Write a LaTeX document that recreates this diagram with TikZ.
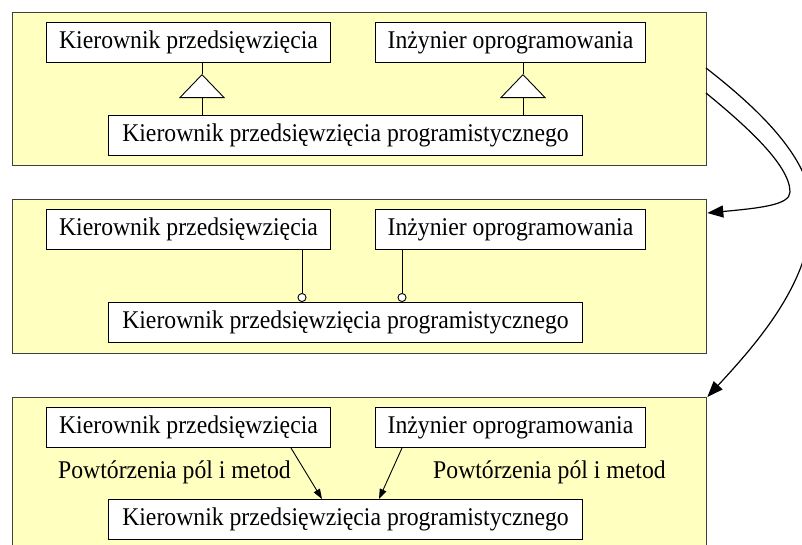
\documentclass[tikz,border=0pt]{standalone}
\usepackage{fontspec}
\setmainfont{Liberation Serif}[FakeStretch=0.93]
\usetikzlibrary{arrows.meta}
\definecolor{panelfill}{HTML}{FFFFC0}
\definecolor{panelline}{HTML}{404040}
\begin{document}
\begin{tikzpicture}[
  x=1pt, y=-1pt,
  panel/.style={draw=panelline, line width=1.3pt, fill=panelfill,
    minimum width=694pt, minimum height=153pt, inner sep=0pt, anchor=north west},
  cls/.style={draw=black, line width=1pt, fill=white, minimum height=40pt,
    inner sep=0pt, anchor=north west, font=\fontsize{25.5}{29}\selectfont},
  lbl/.style={inner sep=0pt, anchor=base west, font=\fontsize{25.5}{29}\selectfont},
  link/.style={line width=0.9pt},
  gentip/.style={-{Triangle[length=24pt,width=46pt,fill=white]}},
  balltip/.style={-{Circle[length=9pt,fill=white]}},
  deptip/.style={-{Triangle[length=10pt,width=7pt]}},
  flow/.style={line width=1.2pt, -{Triangle[length=16pt,width=12pt]}}
]
\useasboundingbox (0,0) rectangle (802,544);

% three panels
\node[panel] (p1) at (12,12) {};
\node[panel, minimum height=154pt] (p2) at (12,199) {};
\node[panel, minimum height=154pt] (p3) at (12,397) {};

% panel 1: inheritance
\node[cls, minimum width=284pt] (A1) at (46,22) {Kierownik przedsięwzięcia};
\node[cls, minimum width=270pt] (B1) at (375,22) {Inżynier oprogramowania};
\node[cls, minimum width=474pt] (C1) at (108,115) {Kierownik przedsięwzięcia programistycznego};
\coordinate (g1) at (202,74);
\coordinate (g2) at (523,74);
\draw[link] (A1.south -| g1) -- (g1);
\draw[link, gentip] (C1.north -| g1) -- (g1);
\draw[link] (B1.south -| g2) -- (g2);
\draw[link, gentip] (C1.north -| g2) -- (g2);

% panel 2: interfaces
\node[cls, minimum width=284pt] (A2) at (46,209) {Kierownik przedsięwzięcia};
\node[cls, minimum width=270pt] (B2) at (375,209) {Inżynier oprogramowania};
\node[cls, minimum width=474pt] (C2) at (108,302) {Kierownik przedsięwzięcia programistycznego};
\coordinate (k1) at (302,0);
\coordinate (k2) at (402,0);
\draw[link, balltip] (A2.south -| k1) -- (C2.north -| k1);
\draw[link, balltip] (B2.south -| k2) -- (C2.north -| k2);

% panel 3: copying fields and methods
\node[cls, minimum width=284pt] (A3) at (46,407) {Kierownik przedsięwzięcia};
\node[cls, minimum width=270pt] (B3) at (375,407) {Inżynier oprogramowania};
\node[cls, minimum width=474pt] (C3) at (108,499) {Kierownik przedsięwzięcia programistycznego};
\coordinate (d1s) at (291,0);
\coordinate (d1e) at (322,0);
\coordinate (d2s) at (402,0);
\coordinate (d2e) at (379,0);
\draw[link, deptip] (A3.south -| d1s) -- (C3.north -| d1e);
\draw[link, deptip] (B3.south -| d2s) -- (C3.north -| d2e);
\node[lbl] (L1) at (58,478) {Powtórzenia pól i metod};
\node[lbl] (L2) at (433,478) {Powtórzenia pól i metod};

% transitions between the panels
\coordinate (s1) at (706,93);
\coordinate (s2) at (706,68);
\coordinate (t1) at (p2.east |- 0,213);
\draw[flow] (s1) .. controls (745,125) and (790,165) .. (790,192)
                 .. controls (790,205) and (760,208) .. (t1);
\draw[flow] (s2) .. controls (760,110) and (812,160) .. (812,210)
                 .. controls (812,280) and (760,340) .. (p3.north east);
\end{tikzpicture}
\end{document}
